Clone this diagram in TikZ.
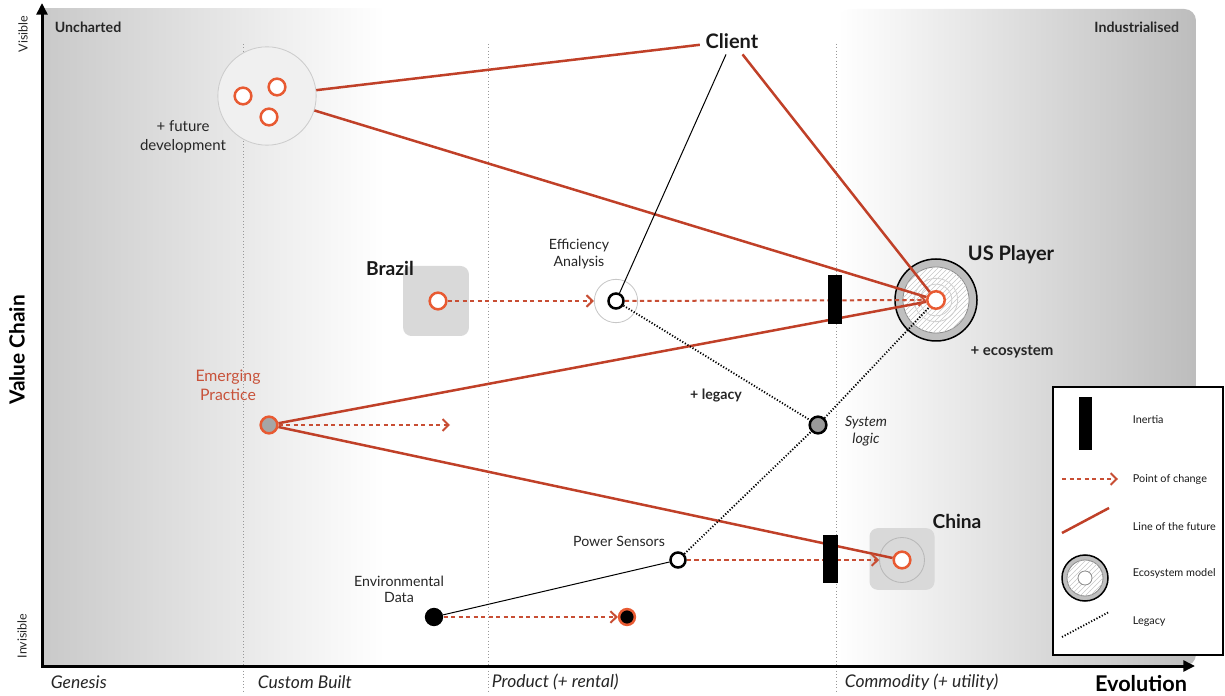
\documentclass[tikz,border=0pt]{standalone}
\usepackage{fontspec}
\setmainfont{Lato}
\usetikzlibrary{arrows.meta,patterns}
\definecolor{futc}{RGB}{192,64,40}
\definecolor{chgc}{RGB}{200,78,52}
\definecolor{orngc}{RGB}{232,90,50}
\definecolor{emtxt}{RGB}{200,82,58}
\pgfdeclarelayer{bg}
\pgfdeclarelayer{mid}
\pgfsetlayers{bg,mid,main}
\begin{document}
\begin{tikzpicture}[x=0.6pt,y=-0.6pt,
  font=\fontsize{8.5}{10}\selectfont,
  every node/.append style={text=black!85},
  futline/.style={draw=futc, line width=1.5pt},
  chg/.style={draw=chgc, line width=1.2pt, dash pattern=on 2.6pt off 1.9pt,
    -{Straight Barb[length=3.6pt,width=7pt]}},
  legacy/.style={draw=black, line width=1.1pt, dash pattern=on 0.7pt off 1.1pt},
  plainline/.style={draw=black, line width=0.6pt},
  grid/.style={draw=black!40, line width=0.5pt, dash pattern=on 0.6pt off 1.4pt},
  axis/.style={line width=1.8pt, {Triangle[length=7pt,width=6.5pt]}-{Triangle[length=7pt,width=6.5pt]}},
  opt/.style={circle, draw=orngc, line width=1.5pt, fill=white, minimum size=10pt, inner sep=0pt},
  bpt/.style={circle, draw=black, line width=1.5pt, fill=white, minimum size=9pt, inner sep=0pt},
  halo/.style={circle, draw=black!22, line width=0.5pt, inner sep=0pt, minimum size=#1},
  sqbox/.style={rectangle, rounded corners=5pt, fill=black!15, inner sep=0pt},
  inertia/.style={rectangle, fill=black, inner sep=0pt},
  ecoouter/.style={circle, draw=black, line width=0.9pt, fill=black!25, inner sep=0pt, minimum size=#1},
  ecoinner/.style={circle, draw=black!45, line width=0.5pt, fill=white, inner sep=0pt, minimum size=#1},
  ecohatch/.style={circle, pattern=north east lines, pattern color=black!22, inner sep=0pt, minimum size=#1},
  faint/.style={circle, draw=black!18, line width=0.5pt, inner sep=0pt, minimum size=#1},
  bold12/.style={font=\bfseries\fontsize{12}{14}\selectfont, text=black!90},
  lbl/.style={font=\fontsize{8.5}{10}\selectfont, align=center, text=black!85},
  evo/.style={anchor=west, font=\itshape\fontsize{10.5}{12}\selectfont, text=black!85},
  legtext/.style={anchor=west, font=\fontsize{6.5}{8}\selectfont, text=black!90}
]
\useasboundingbox (0,0) rectangle (1225,696);

% ---------------- background ----------------
\begin{pgfonlayer}{bg}
\shade[left color=black!21, right color=white] (44,9) rectangle (385,666);
\shade[left color=white, right color=black!26, rounded corners=7pt] (838,666) -- (838,9) -- (1196,9) -- (1196,666) -- cycle;
\draw[grid] (243,44) -- (243,692);
\draw[grid] (488,44) -- (488,692);
\draw[grid] (836,44) -- (836,692);

% cluster of future development
\node[circle, minimum size=59pt, draw=black!20, fill=black!6, line width=0.5pt, inner sep=0pt] (cl) at (267,96) {};

% US player ecosystem
\node[ecoouter=49.2pt] (usout) at (936,300) {};
\node[ecoinner=39.6pt] (usin) at (936,300) {};
\node[ecohatch=39.6pt] (ushatch) at (936,300) {};
\node[faint=26pt] (usf1) at (936,300) {};
\node[faint=19pt] (usf2) at (936,300) {};

% Brazil box
\node[sqbox, minimum width=39.5pt, minimum height=42pt] (brbox) at (436,301) {};
% Efficiency halo
\node[halo=26pt] (effhalo) at (616,301) {};
% China box
\node[sqbox, minimum width=39pt, minimum height=37pt] (chbox) at (902,559) {};
\node[halo=27pt, draw=black!28] (chhalo) at (902,560) {};
\end{pgfonlayer}

% ---------------- axes ----------------
\coordinate (O) at (42,666);
\coordinate (Ytop) at (42,3);
\coordinate (Xend) at (1195,666);
\draw[axis] (Ytop) -- (O) -- (Xend);

\node[rotate=90, font=\fontsize{7.5}{9}\selectfont] (vis) at (23,34) {Visible};
\node[rotate=90, font=\fontsize{7.5}{9}\selectfont] (invis) at (22,636) {Invisible};
\node[rotate=90, font=\bfseries\fontsize{12.5}{14}\selectfont, text=black] (vc) at (17,350) {Value Chain};

\node[anchor=west, font=\bfseries\fontsize{8.5}{10}\selectfont] (unch) at (49,27) {Uncharted};
\node[anchor=east, font=\bfseries\fontsize{8.5}{10}\selectfont] (indus) at (1185,27) {Industrialised};

\node[evo] (gen) at (45,682) {Genesis};
\node[evo] (cust) at (252,682) {Custom Built};
\node[evo] (prod) at (486,682) {Product (+ rental)};
\node[evo] (comm) at (839,682) {Commodity (+ utility)};
\node[font=\bfseries\fontsize{13}{15}\selectfont, text=black] (evol) at (1141,684) {Evolution};

% ---------------- components ----------------
\node[opt] (f1) at (243,96) {};
\node[opt] (f2) at (277,87) {};
\node[opt] (f3) at (269,117) {};
\node[font=\fontsize{9}{11}\selectfont, align=center] (fdl) at (183,137) {+ future\\development};

\node[bold12] (client) at (732,41) {Client};

\node[opt, minimum size=10.5pt] (usc) at (936,300) {};
\node[bold12] (uslbl) at (1011,255) {US Player};
\node[font=\bfseries\fontsize{9}{11}\selectfont] (ecolbl) at (1012,352) {+ ecosystem};

\node[bold12, font=\bfseries\fontsize{11.5}{13}\selectfont] (brlbl) at (390,268) {Brazil};
\node[opt] (brpt) at (438,301) {};

\node[bpt] (eff) at (616,301) {};
\node[lbl] (efflbl) at (579,254) {Efficiency\\Analysis};

\node[inertia, minimum width=8.4pt, minimum height=29.4pt] (in1) at (835,300) {};

\node[circle, draw=black, line width=1.5pt, fill=black!40, minimum size=10pt, inner sep=0pt] (sys) at (818,425) {};
\node[lbl, font=\itshape\fontsize{8.5}{10}\selectfont] (syslbl) at (866,431) {System\\logic};
\node[font=\bfseries\fontsize{8.5}{10}\selectfont] (leglbl) at (716,396) {+ legacy};

\node[circle, draw=orngc, line width=1.5pt, fill=black!35, minimum size=10pt, inner sep=0pt] (em) at (269,425) {};
\node[lbl, font=\fontsize{9.5}{11.5}\selectfont, text=emtxt] (emlbl) at (228,385) {Emerging\\Practice};
\coordinate (emend) at (450,425);

\node[opt] (chc) at (902,560) {};
\node[bold12, font=\bfseries\fontsize{11.5}{13}\selectfont] (chlbl) at (957,521) {China};
\node[inertia, minimum width=9pt, minimum height=29pt] (in2) at (830,559) {};

\node[bpt] (power) at (678,560) {};
\node[lbl] (powlbl) at (619,541) {Power Sensors};

\node[circle, fill=black, minimum size=11pt, inner sep=0pt] (env) at (434,617) {};
\node[lbl, font=\fontsize{8.5}{9.5}\selectfont] (envlbl) at (399,589) {Environmental\\Data};
\node[circle, draw=orngc, line width=1.5pt, fill=black, minimum size=9.5pt, inner sep=0pt] (envend) at (627,617) {};

% ---------------- connectors ----------------
\begin{pgfonlayer}{mid}
\draw[futline] (cl) -- (client);
\draw[futline] (cl) -- (usc);
\draw[futline] (client) -- (usc);
\draw[futline] (em) -- (usc);
\draw[futline] (em) -- (chc);
\draw[plainline] (client) -- (eff);
\draw[plainline] (env) -- (power);
\draw[legacy] (eff) -- (sys);
\draw[legacy] (sys) -- (usc);
\draw[legacy] (power) -- (sys);
\draw[chg] (brpt) -- (effhalo);
\draw[chg] (eff) -- (usc);
\draw[chg] (em) -- (emend);
\draw[chg] (power) -- (chhalo);
\draw[chg] (env) -- (envend);
\end{pgfonlayer}

% ---------------- legend ----------------
\node[draw=black, line width=0.8pt, fill=white, minimum width=102pt, minimum height=160.8pt, inner sep=0pt] (legend) at (1138,521) {};
\node[inertia, minimum width=7.8pt, minimum height=31.8pt] (lin) at (1085.5,423.5) {};
\node[legtext] (lt1) at (1127,420) {Inertia};
\coordinate (lca) at (1062,479);
\coordinate (lcb) at (1118,479);
\draw[chg] (lca) -- (lcb);
\node[legtext] (lt2) at (1127,479) {Point of change};
\coordinate (lfa) at (1062,533);
\coordinate (lfb) at (1109,508);
\draw[futline] (lfa) -- (lfb);
\node[legtext] (lt3) at (1127,527) {Line of the future};
\node[ecoouter=27.6pt] (leo) at (1085,578) {};
\node[ecoinner=21.6pt] (lei) at (1085,578) {};
\node[ecohatch=21.6pt] (leh) at (1085,578) {};
\node[circle, draw=black!45, line width=0.5pt, fill=white, minimum size=8.4pt, inner sep=0pt] (lec) at (1085,578) {};
\node[legtext] (lt4) at (1127,573) {Ecosystem model};
\coordinate (lla) at (1062,637);
\coordinate (llb) at (1109,612);
\draw[legacy] (lla) -- (llb);
\node[legtext] (lt5) at (1127,622) {Legacy};
\end{tikzpicture}
\end{document}
